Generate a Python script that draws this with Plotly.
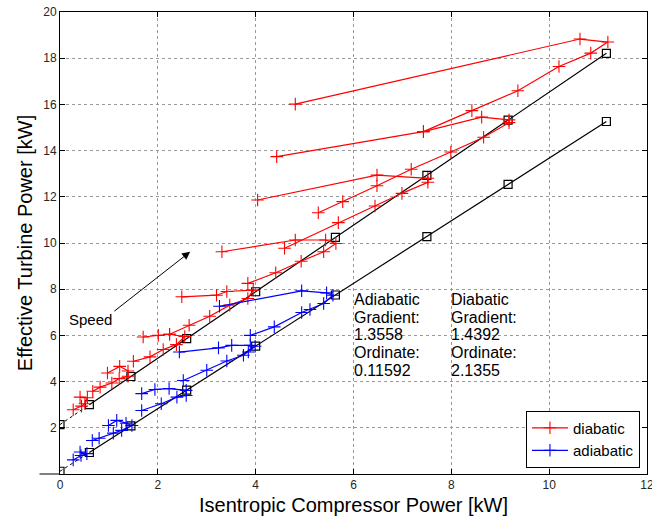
import plotly.graph_objects as go

# ---------------- data ----------------
# diabatic measurements, one list per speed line
diabatic_speeds = [
    [(0.41, 3.33), (0.56, 3.30), (0.51, 3.04), (0.44, 2.94), (0.27, 2.78)],
    [(0.97, 4.37), (1.22, 4.66), (1.39, 4.46), (1.39, 4.23), (1.21, 4.13), (1.06, 3.94), (0.82, 3.76), (0.67, 3.58)],
    [(1.70, 5.93), (2.01, 6.00), (2.24, 6.05), (2.55, 5.95), (2.38, 5.60), (2.11, 5.39), (1.84, 5.07), (1.50, 4.88)],
    [(2.49, 7.67), (3.20, 7.74), (3.41, 7.90), (3.95, 7.96), (3.84, 7.60), (3.47, 7.31), (3.06, 6.83), (2.64, 6.44), (2.24, 6.05)],
    [(3.31, 9.62), (4.81, 10.13), (5.43, 10.13), (5.64, 9.98), (5.39, 9.62), (4.93, 9.21), (4.41, 8.71), (3.84, 8.25)],
    [(4.04, 11.86), (6.48, 12.94), (7.52, 12.80), (7.52, 12.63), (6.99, 12.15), (6.44, 11.60), (5.69, 10.88), (4.59, 9.77)],
    [(4.43, 13.74), (7.43, 14.82), (8.62, 15.45), (9.18, 15.33), (9.18, 15.21), (8.66, 14.58), (7.99, 13.94),
     (7.18, 13.19), (6.48, 12.48), (5.78, 11.79), (5.28, 11.31)],
    [(4.81, 16.01), (10.63, 18.83), (11.20, 18.70), (10.85, 18.22), (10.20, 17.64), (9.36, 16.59), (8.42, 15.73), (7.43, 14.82)],
]
# adiabatic measurements, one list per speed line
adiabatic_speeds = [
    [(0.41, 0.95), (0.55, 0.88), (0.43, 0.80), (0.27, 0.61)],
    [(0.99, 2.10), (1.16, 2.32), (1.35, 2.20), (1.47, 2.10), (1.26, 1.89), (1.09, 1.77), (0.80, 1.55), (0.66, 1.45)],
    [(1.67, 3.48), (1.94, 3.66), (2.23, 3.70), (2.58, 3.62), (2.58, 3.40), (2.39, 3.33), (2.07, 3.04), (1.67, 2.75)],
    [(2.44, 5.28), (3.24, 5.46), (3.51, 5.57), (3.89, 5.57), (3.99, 5.53), (3.85, 5.28), (3.75, 5.14), (3.41, 4.89),
     (3.00, 4.49), (2.52, 4.05)],
    [(3.26, 7.26), (4.94, 7.93), (5.45, 7.84), (5.58, 7.74), (5.39, 7.38), (5.11, 7.12), (4.94, 6.99), (4.38, 6.37), (3.89, 6.00)],
]
# linear fits (square markers)
fit_x = [0, 0.60, 1.45, 2.59, 4.00, 5.63, 7.50, 9.16, 11.17]
fit_adiabatic_y = [0.12, 0.93, 2.08, 3.63, 5.54, 7.75, 10.28, 12.54, 15.26]
fit_diabatic_y = [2.14, 3.00, 4.22, 5.86, 7.89, 10.24, 12.93, 15.32, 18.21]

x_ticks = [0, 2, 4, 6, 8, 10, 12]
y_ticks = [2, 4, 6, 8, 10, 12, 14, 16, 18, 20]

adiabatic_text = ["Adiabatic", "Gradient:", "1.3558", "Ordinate:", "0.11592"]
diabatic_text = ["Diabatic", "Gradient:", "1.4392", "Ordinate:", "2.1355"]

FONT = "Liberation Sans, Arial, Helvetica, sans-serif"


def flatten(groups):
    xs, ys = [], []
    for g in groups:
        for (x, y) in g:
            xs.append(x)
            ys.append(y)
        xs.append(None)
        ys.append(None)
    return xs, ys


fig = go.Figure()

for fy in (fit_diabatic_y, fit_adiabatic_y):
    fig.add_trace(go.Scatter(x=fit_x[:2], y=fy[:2], mode="lines", showlegend=False,
                             line=dict(color="black", width=1, dash="dot"), hoverinfo="skip"))
    fig.add_trace(go.Scatter(x=fit_x[1:], y=fy[1:], mode="lines", showlegend=False,
                             line=dict(color="black", width=1.2), hoverinfo="skip"))
    fig.add_trace(go.Scatter(x=fit_x, y=fy, mode="markers", showlegend=False,
                             marker=dict(symbol="square-open", size=8, color="black",
                                         line=dict(color="black", width=1.2))))

for name, groups, col in (("diabatic", diabatic_speeds, "#ff0000"),
                          ("adiabatic", adiabatic_speeds, "#0000ff")):
    xs, ys = flatten(groups)
    fig.add_trace(go.Scatter(x=xs, y=ys, mode="lines+markers", name=name, connectgaps=False,
                             line=dict(color=col, width=1.2),
                             marker=dict(symbol="cross-thin", size=9, color=col,
                                         line=dict(color=col, width=1.1))))

axis_common = dict(showline=True, linecolor="black", linewidth=1, mirror="ticks",
                   ticks="inside", ticklen=5, tickcolor="black", showgrid=True,
                   gridcolor="#9a9a9a", griddash="dot", gridwidth=1, zeroline=False,
                   automargin=False,
                   tickfont=dict(family=FONT, size=12, color="#262626"))

fig.update_xaxes(range=[0, 12], tickvals=x_ticks, ticklabeloverflow="allow",
                 title=dict(text="Isentropic Compressor Power [kW]",
                            font=dict(family=FONT, size=20, color="black"), standoff=6),
                 **axis_common)
fig.update_yaxes(range=[0, 20], tickvals=y_ticks,
                 title=dict(text="Effective Turbine Power [kW]",
                            font=dict(family=FONT, size=20, color="black"), standoff=5),
                 **axis_common)

ann = []
# text blocks, one line each
y0, dy = 7.55, 0.765
for i, (la, ld) in enumerate(zip(adiabatic_text, diabatic_text)):
    ann.append(dict(x=5.97, y=y0 - i * dy, xref="x", yref="y", xanchor="left", yanchor="middle",
                    text=la, showarrow=False, font=dict(family=FONT, size=16, color="black")))
    ann.append(dict(x=7.96, y=y0 - i * dy, xref="x", yref="y", xanchor="left", yanchor="middle",
                    text=ld, showarrow=False, font=dict(family=FONT, size=16, color="black")))
# Speed arrow
ann.append(dict(x=2.66, y=9.62, ax=1.08, ay=7.0, xref="x", yref="y", axref="x", ayref="y",
                text="", showarrow=True, arrowhead=2, arrowsize=1.6, arrowwidth=1, arrowcolor="black",
                standoff=0))
ann.append(dict(x=0.62, y=6.68, xref="x", yref="y", text="Speed", showarrow=False,
                font=dict(family=FONT, size=15, color="black")))
# Heat flows bracket
ann.append(dict(x=-0.45, y=2.05, ax=-0.45, ay=0.0, xref="x", yref="y", axref="x", ayref="y",
                text="", showarrow=True, arrowhead=2, arrowsize=1.6, arrowwidth=1, arrowcolor="black",
                standoff=0))
ann.append(dict(x=-0.2, y=2.05, ax=-0.45, ay=2.05, xref="x", yref="y", axref="x", ayref="y",
                text="", showarrow=True, arrowhead=0, arrowwidth=1, arrowcolor="black", standoff=0))
ann.append(dict(x=0.0, y=0.0, ax=-0.45, ay=0.0, xref="x", yref="y", axref="x", ayref="y",
                text="", showarrow=True, arrowhead=0, arrowwidth=1, arrowcolor="black", standoff=0))
ann.append(dict(x=-0.885, y=1.67, xref="x", yref="y", text="Heat Flows", textangle=-90,
                showarrow=False, font=dict(family=FONT, size=15, color="black")))

fig.update_layout(
    width=652, height=516,
    margin=dict(l=60, r=5, t=12, b=42, autoexpand=False),
    paper_bgcolor="white", plot_bgcolor="white",
    font=dict(family=FONT, color="black"),
    annotations=ann,
    legend=dict(x=0.988, y=0.014, xanchor="right", yanchor="bottom",
                bgcolor="white", bordercolor="black", borderwidth=1,
                font=dict(family=FONT, size=15, color="black"),
                tracegroupgap=0, itemwidth=36),
)

fig.write_html("out.html", config={"displayModeBar": False},
               post_script="document.body.style.margin='0px';document.body.style.overflow='hidden';")
